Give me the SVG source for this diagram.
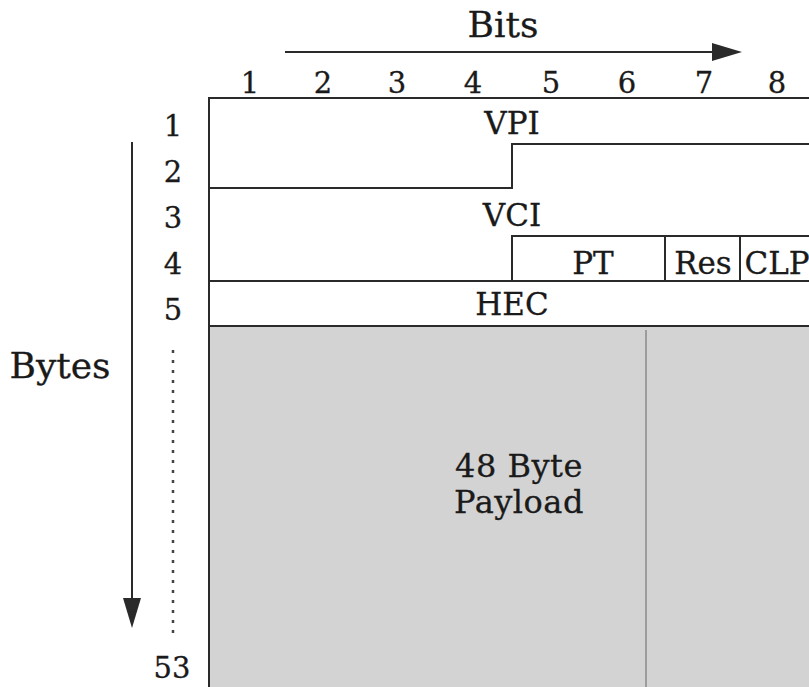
<svg xmlns="http://www.w3.org/2000/svg" width="809" height="687" viewBox="0 0 809 687">
  <style>
    text { font-family: "DejaVu Serif", "Liberation Serif", serif; fill: #1a1a1a; stroke: #1a1a1a; stroke-width: 0.3; }
    .big { font-size: 36px; }
    .num { font-size: 29px; }
    .lab { font-size: 31px; text-anchor: middle; }
    .pay { font-size: 32px; text-anchor: middle; letter-spacing: 0.5px; }
    .ln { stroke: #2a2a2a; stroke-width: 2; fill: none; }
  </style>
  <rect width="809" height="687" fill="#ffffff"/>

  <g id="axes">
    <text class="big" x="503" y="37" text-anchor="middle">Bits</text>
    <line class="ln" x1="285" y1="52" x2="714" y2="52"/>
    <path d="M712,43 L742,52 L712,61 z" fill="#2a2a2a"/>
    <g class="num" text-anchor="middle">
      <text x="250" y="93">1</text>
      <text x="323" y="93">2</text>
      <text x="397" y="93">3</text>
      <text x="473" y="93">4</text>
      <text x="551" y="93">5</text>
      <text x="627" y="93">6</text>
      <text x="704" y="93">7</text>
      <text x="777" y="93">8</text>
    </g>
    <text class="big" x="60" y="378" text-anchor="middle">Bytes</text>
    <line class="ln" x1="132" y1="142" x2="132" y2="600"/>
    <path d="M123,598 L132,628 L141,598 z" fill="#2a2a2a"/>
    <g class="num" text-anchor="middle">
      <text x="173" y="136">1</text>
      <text x="173" y="182">2</text>
      <text x="173" y="228">3</text>
      <text x="173" y="274">4</text>
      <text x="173" y="320">5</text>
      <text x="172" y="678">53</text>
    </g>
    <line x1="173" y1="350" x2="173" y2="636" stroke="#444" stroke-width="2.5" stroke-dasharray="3,7"/>
  </g>

  <g id="payload">
    <rect x="209" y="326" width="610" height="370" fill="#d3d3d3"/>
    <line x1="646" y1="330" x2="646" y2="687" stroke="#8f8f8f" stroke-width="2" opacity="0.8"/>
    <text class="pay" x="519" y="477">48 Byte</text>
    <text class="pay" x="519" y="513">Payload</text>
  </g>

  <g id="header-fields">
    <rect x="209" y="98" width="610" height="228" fill="#ffffff"/>
  </g>

  <g id="connectors">
    <path class="ln" d="M209,687 L209,98 L815,98"/>
    <path class="ln" d="M209,188 L512,188 L512,144 L815,144"/>
    <path class="ln" d="M209,281 L815,281"/>
    <path class="ln" d="M512,281 L512,236 L815,236"/>
    <line class="ln" x1="665" y1="236" x2="665" y2="281"/>
    <line class="ln" x1="740" y1="236" x2="740" y2="281"/>
    <path class="ln" d="M209,326 L815,326"/>
  </g>

  <g id="vpi"><text class="lab" x="512" y="134">VPI</text></g>
  <g id="vci"><text class="lab" x="512" y="226">VCI</text></g>
  <g id="pt"><text class="lab" x="593" y="274">PT</text></g>
  <g id="res"><text class="lab" x="703" y="274">Res</text></g>
  <g id="clp"><text class="lab" x="777" y="274">CLP</text></g>
  <g id="hec"><text class="lab" x="512" y="315">HEC</text></g>
</svg>
